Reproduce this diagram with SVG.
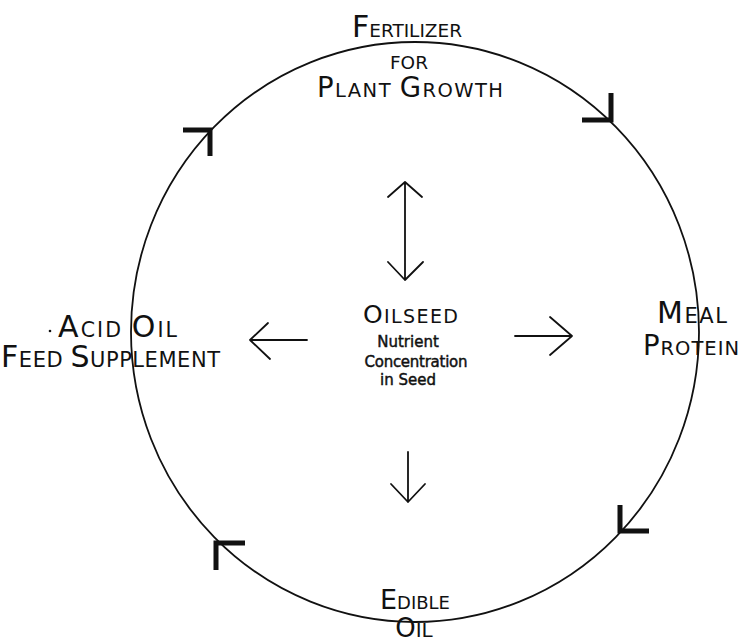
<svg xmlns="http://www.w3.org/2000/svg" width="741" height="643" viewBox="0 0 741 643">
<style>
text{font-family:"DejaVu Sans","Liberation Sans",sans-serif;fill:#111}
.line{fill:none;stroke:#111;stroke-width:1.8;stroke-linecap:round;stroke-linejoin:round}
.head{fill:none;stroke:#111;stroke-width:5;stroke-linecap:butt;stroke-linejoin:miter}
.sm{font-size:15px;text-anchor:middle;stroke:#111;stroke-width:0.45}
</style>
<rect width="741" height="643" fill="#fff"/>
<g id="connectors">
<ellipse class="line" cx="415" cy="332" rx="284" ry="290"/>
<path class="head" d="M183,130 H210 V156"/>
<path class="head" d="M611,93 V120 H582"/>
<path class="head" d="M620,505 V531 H649"/>
<path class="head" d="M245,543 H216 V570"/>
<path class="line" d="M405,182 V280 M388,197 L405,182 L422,197 M388,262 L405,280 L423,262"/>
<path class="line" d="M307,340 H250 M268,323 L250,340 L270,359"/>
<path class="line" d="M515,336 H572 M550,317 L572,336 L550,355"/>
<path class="line" d="M408,452 V502 M391,484 L408,502 L425,484"/>
</g>
<g id="node-fertilizer">
<text x="352" y="37" textLength="110" lengthAdjust="spacing"><tspan font-size="30">F</tspan><tspan font-size="18.5">ERTILIZER</tspan></text>
<text x="409" y="69" font-size="18.5" text-anchor="middle">FOR</text>
<text x="317" y="97" textLength="186" lengthAdjust="spacing"><tspan font-size="27.5">P</tspan><tspan font-size="19.5">LANT </tspan><tspan font-size="27.5">G</tspan><tspan font-size="19.5">ROWTH</tspan></text>
</g>
<g id="node-acid-oil">
<circle cx="50" cy="331" r="1.3" fill="#111"/>
<text x="58" y="337" textLength="119" lengthAdjust="spacing"><tspan font-size="30">A</tspan><tspan font-size="20.5">CID </tspan><tspan font-size="30">O</tspan><tspan font-size="20.5">IL</tspan></text>
<text x="1" y="367" textLength="219" lengthAdjust="spacing"><tspan font-size="30">F</tspan><tspan font-size="21">EED </tspan><tspan font-size="30">S</tspan><tspan font-size="21">UPPLEMENT</tspan></text>
</g>
<g id="node-meal-protein">
<text x="657" y="323" textLength="70" lengthAdjust="spacing"><tspan font-size="30">M</tspan><tspan font-size="21">EAL</tspan></text>
<text x="643" y="355" textLength="96" lengthAdjust="spacing"><tspan font-size="27.5">P</tspan><tspan font-size="19.5">ROTEIN</tspan></text>
</g>
<g id="node-edible-oil">
<text x="415" y="609" text-anchor="middle"><tspan font-size="27">E</tspan><tspan font-size="18">DIBLE</tspan></text>
<text x="414" y="637" text-anchor="middle"><tspan font-size="26">O</tspan><tspan font-size="20">IL</tspan></text>
</g>
<g id="node-oilseed">
<text x="363" y="323" textLength="95" lengthAdjust="spacing"><tspan font-size="25">O</tspan><tspan font-size="19">ILSEED</tspan></text>
<text class="sm" x="408" y="347">Nutrient</text>
<text class="sm" x="416" y="367" textLength="103" lengthAdjust="spacing">Concentration</text>
<text class="sm" x="408" y="385">in Seed</text>
</g>
</svg>
